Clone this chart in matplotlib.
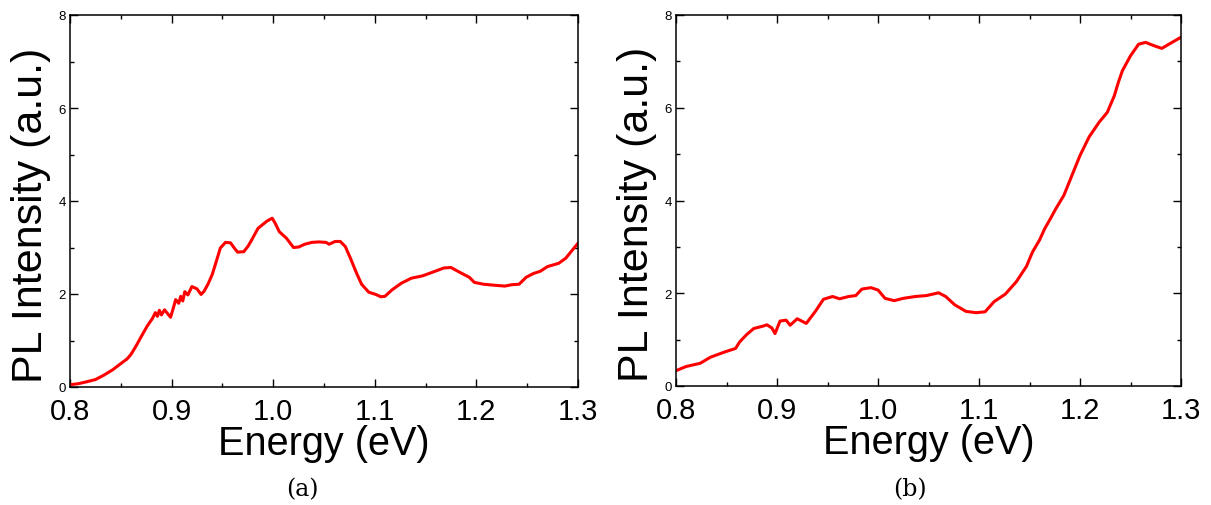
import matplotlib
matplotlib.use("Agg")
import matplotlib.pyplot as plt
from matplotlib.ticker import MultipleLocator

# Panel (a): PL spectrum, energy (eV) vs intensity (a.u.)
energy_a = [0.800, 0.808, 0.816, 0.825, 0.833, 0.842, 0.851, 0.856, 0.860, 0.865,
            0.870, 0.876, 0.881, 0.884, 0.886, 0.888, 0.890, 0.893, 0.896, 0.899,
            0.902, 0.904, 0.907, 0.909, 0.911, 0.913, 0.916, 0.920, 0.925, 0.929,
            0.932, 0.936, 0.940, 0.943, 0.948, 0.953, 0.958, 0.962, 0.965, 0.971,
            0.975, 0.978, 0.985, 0.990, 0.994, 0.999, 1.002, 1.006, 1.013, 1.020,
            1.025, 1.031, 1.038, 1.045, 1.052, 1.055, 1.061, 1.066, 1.071, 1.076,
            1.082, 1.087, 1.094, 1.101, 1.106, 1.110, 1.117, 1.126, 1.136, 1.147,
            1.157, 1.168, 1.175, 1.185, 1.193, 1.198, 1.207, 1.217, 1.228, 1.235,
            1.242, 1.249, 1.256, 1.263, 1.270, 1.281, 1.288, 1.295, 1.300]
pl_a = [0.05, 0.07, 0.11, 0.16, 0.25, 0.37, 0.52, 0.60, 0.70, 0.88,
        1.08, 1.31, 1.47, 1.60, 1.52, 1.65, 1.55, 1.66, 1.58, 1.50,
        1.72, 1.88, 1.80, 1.95, 1.85, 2.05, 1.98, 2.16, 2.11, 1.99,
        2.06, 2.22, 2.42, 2.63, 2.99, 3.11, 3.10, 2.98, 2.90, 2.91,
        3.02, 3.13, 3.41, 3.50, 3.57, 3.63, 3.52, 3.34, 3.20, 3.00,
        3.01, 3.07, 3.11, 3.12, 3.11, 3.07, 3.13, 3.13, 3.02, 2.77,
        2.45, 2.21, 2.04, 1.99, 1.94, 1.95, 2.09, 2.23, 2.34, 2.39,
        2.47, 2.56, 2.57, 2.45, 2.36, 2.25, 2.21, 2.19, 2.17, 2.20,
        2.21, 2.36, 2.44, 2.49, 2.59, 2.66, 2.77, 2.96, 3.09]

# Panel (b)
energy_b = [0.800, 0.810, 0.824, 0.834, 0.849, 0.859, 0.863, 0.870, 0.877, 0.886,
            0.890, 0.895, 0.898, 0.903, 0.909, 0.913, 0.920, 0.929, 0.938, 0.946,
            0.955, 0.962, 0.971, 0.978, 0.984, 0.993, 1.000, 1.007, 1.016, 1.025,
            1.037, 1.048, 1.060, 1.067, 1.076, 1.087, 1.097, 1.106, 1.115, 1.126,
            1.137, 1.147, 1.153, 1.160, 1.165, 1.171, 1.176, 1.184, 1.192, 1.200,
            1.209, 1.219, 1.227, 1.234, 1.238, 1.242, 1.250, 1.258, 1.265, 1.273,
            1.281, 1.288, 1.300]
pl_b = [0.33, 0.42, 0.49, 0.62, 0.74, 0.81, 0.95, 1.11, 1.24, 1.29,
        1.32, 1.25, 1.13, 1.40, 1.42, 1.31, 1.45, 1.35, 1.61, 1.87,
        1.93, 1.88, 1.93, 1.95, 2.09, 2.12, 2.07, 1.89, 1.84, 1.89,
        1.93, 1.95, 2.01, 1.93, 1.75, 1.61, 1.58, 1.60, 1.82, 1.98,
        2.25, 2.58, 2.89, 3.15, 3.39, 3.62, 3.82, 4.11, 4.54, 4.97,
        5.37, 5.69, 5.90, 6.26, 6.55, 6.80, 7.12, 7.37, 7.41, 7.34,
        7.28, 7.37, 7.52]

x_ticks = [0.8, 0.9, 1.0, 1.1, 1.2, 1.3]
y_ticks = [0, 2, 4, 6, 8]

fig = plt.figure(figsize=(12.11, 5.06), dpi=100)
ax_a = fig.add_axes([70 / 1211, 118 / 506, 508 / 1211, 372 / 506])
ax_b = fig.add_axes([676 / 1211, 119 / 506, 505 / 1211, 371 / 506])

sans = "Liberation Sans"
for ax, e, pl in [(ax_a, energy_a, pl_a), (ax_b, energy_b, pl_b)]:
    ax.plot(e, pl, color="#ff0000", lw=2.2)
    ax.set_xlim(0.8, 1.3)
    ax.set_ylim(0, 8)
    ax.set_xticks(x_ticks)
    ax.set_xticklabels([f"{t:.1f}" for t in x_ticks], fontsize=21, family=sans)
    ax.set_yticks(y_ticks)
    ax.set_yticklabels([str(t) for t in y_ticks], fontsize=9.5, family=sans)
    ax.xaxis.set_minor_locator(MultipleLocator(0.05))
    ax.yaxis.set_minor_locator(MultipleLocator(1))
    ax.tick_params(which="both", direction="in", top=True, right=True, width=1)
    ax.tick_params(which="major", length=6)
    ax.tick_params(which="minor", length=3)
    ax.tick_params(axis="x", pad=7)
    ax.tick_params(axis="y", pad=3)
    for s in ax.spines.values():
        s.set_linewidth(1.1)
    ax.set_xlabel("Energy (eV)", fontsize=28.5, family=sans)
    ax.set_ylabel("PL Intensity (a.u.)", fontsize=31, family=sans)
    ax.xaxis.set_label_coords(0.5, -0.1)
    ax.yaxis.set_label_coords(-0.038, 0.465)

fig.text(302 / 1211, 1 - 490 / 506, "(a)", ha="center", va="center",
         fontsize=17, family="DejaVu Serif")
fig.text(910 / 1211, 1 - 490 / 506, "(b)", ha="center", va="center",
         fontsize=17, family="DejaVu Serif")

fig.savefig("out.png", dpi=100)
